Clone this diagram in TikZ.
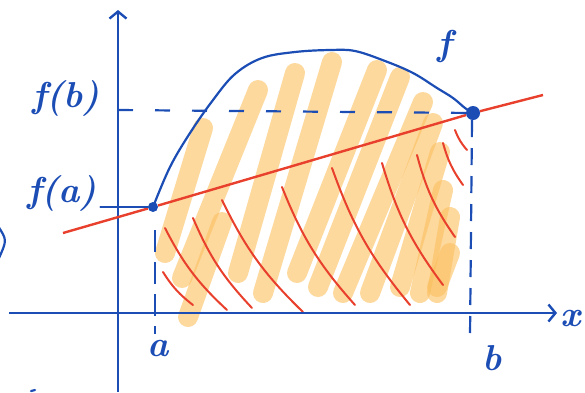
\documentclass[tikz,border=0pt]{standalone}
\usepackage{fontspec}
\usetikzlibrary{arrows.meta,positioning}
\definecolor{penblue}{HTML}{1B4DB5}
\definecolor{penred}{HTML}{E8402C}
\definecolor{marker}{HTML}{FBBF5E}

\begin{document}
\begin{tikzpicture}[x=1pt,y=-1pt,
  axis/.style={penblue,line width=2.6pt,-{Straight Barb[length=7pt,width=17pt,line width=2.4pt]}},
  pen/.style={penblue,line width=2.2pt,line cap=round},
  guide/.style={pen,line cap=butt},
  hatch/.style={penred,line width=2pt,line cap=round},
  marker stroke/.style={marker,opacity=.6,line width=20pt,line cap=round},
  dot/.style={circle,fill=penblue,inner sep=0pt},
  lbl/.style={penblue,font=\fontsize{36}{38}\selectfont\bfseries\itshape}]
\useasboundingbox (0,0) rectangle (585,392);
% marker shading under the graph
\foreach \xa/\ya/\xb/\yb in {165/253/203/128,182/278/258/90,188/317/222/222,238/273/295/73,263/293/332/62,297/273/377/70,318/287/400/77,343/293/423/102,370/293/433/123,400/287/440/152,420/293/443/190,437/293/450/217,437/287/450/253}
  \draw[marker stroke] (\xa,\ya)--(\xb,\yb);
% red hatching under the secant
\foreach \xa/\ya/\xb/\yb in {163/272/193/305,165/228/227/310,193/218/252/308,222/200/303/312,282/187/355/305,332/168/410/305,382/163/443/285,417/155/455/237,443/143/463/185,455/130/467/150}
  \draw[hatch] (\xa,\ya) to[bend right=10] (\xb,\yb);
\coordinate (xl) at (9,313);\coordinate (xr) at (557,313);
\coordinate (yb) at (118,392);\coordinate (yt) at (118,10);
\draw[axis] (xl)--(xr);\draw[axis] (yb)--(yt);
\node[dot,minimum size=10pt] (A) at (153,207) {};
\node[dot,minimum size=14pt] (B) at (473,113) {};
\coordinate (fb) at (118,110);\coordinate (L1) at (63,233);\coordinate (L2) at (543,95);
\coordinate (a0) at (155,230);\coordinate (a1) at (155,334);
\coordinate (b0) at (472,120);\coordinate (b1) at (470,337);
\draw[pen] plot[smooth,tension=.6] coordinates {(A) (170,167) (190,133) (213,100) (235,74) (262,58) (295,52) (330,50) (355,51) (385,61) (413,73) (437,88) (453,98) (465,108) (B)};
\draw[penred,line width=2.4pt] (L1)--(A)--(B)--(L2);
\draw[guide,dash pattern=on 15pt off 22pt] (fb)--(B);
\draw[guide,dash pattern=on 22pt off 10pt] (a0)--(a1);
\draw[guide,dash pattern=on 17pt off 11pt] (b0)--(b1);
\node[lbl] (fblbl) at (66,98) {f(b)};
\node[lbl] (falbl) at (62,193) {f(a)};
\draw[pen] (falbl.east |- A)--(A);
\node[lbl] (albl) at (158,348) {a};
\node[lbl] (blbl) at (492,358) {b};
\node[lbl] (flbl) at (445,46) {f};
\node[lbl] (xlbl) at (571,318) {x};
\draw[pen] (-2,226) .. controls (7,240) .. (-1,258);
\draw[pen] (31,391)--(35,390);
\end{tikzpicture}
\end{document}
